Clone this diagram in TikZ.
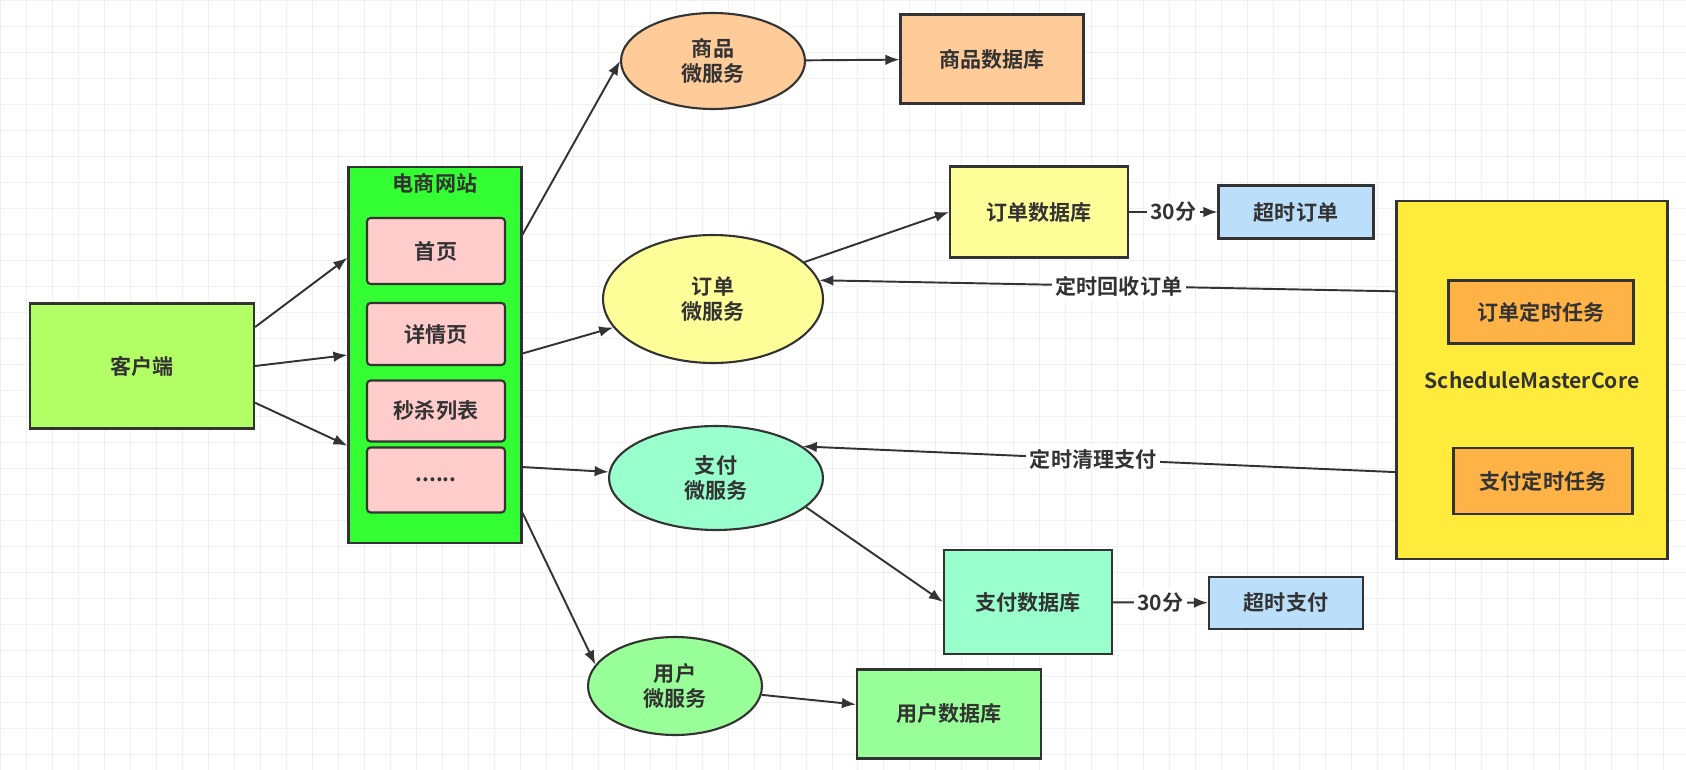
\documentclass[tikz,border=0pt]{standalone}
\usepackage{fontspec}
\setmainfont{Noto Sans CJK SC}[BoldFont={Noto Sans CJK SC Bold}]
\usetikzlibrary{shapes,arrows,arrows.meta,positioning,calc}
\definecolor{clientc}{HTML}{B3FF66}
\definecolor{sitec}{HTML}{33FF33}
\definecolor{pagec}{HTML}{FFCCCC}
\definecolor{goodsc}{HTML}{FFCC99}
\definecolor{orderc}{HTML}{FFFF99}
\definecolor{payc}{HTML}{99FFCC}
\definecolor{userc}{HTML}{99FF99}
\definecolor{timeoutc}{HTML}{BBDEFB}
\definecolor{smcc}{HTML}{FFEB3B}
\definecolor{taskc}{HTML}{FFB347}
\definecolor{linec}{HTML}{333333}

\begin{document}
\begin{tikzpicture}[x=0.02cm, y=-0.02cm,
  every node/.style={font=\fontsize{12}{14}\selectfont\bfseries, text=linec},
  box/.style={draw=linec, line width=1.2pt, rectangle, align=center},
  svc/.style={draw=linec, line width=1.2pt, ellipse, align=center, inner sep=0pt},
  link/.style={-{Latex[length=8pt,width=6pt]}, line width=1.1pt, draw=linec},
  lbl/.style={fill=white, inner sep=2pt}]
  % background grid
  \useasboundingbox (0,0) rectangle (1686,770);
  \fill[white] (0,0) rectangle (1686,770);
  \draw[gray!12, line width=0.4pt] (0,0) grid[step=0.52cm] (1686,770);

  % client and web site
  \node[box, fill=clientc, minimum width=4.48cm, minimum height=2.5cm] (client) at (142,366) {客户端};
  \node[box, fill=sitec, minimum width=3.46cm, minimum height=7.52cm] (site) at (435,355) {};
  \node at (435,183) {电商网站};
  \node[box, fill=pagec, rounded corners=2pt, minimum width=2.76cm, minimum height=1.32cm] (home) at (436,251) {首页};
  \node[box, fill=pagec, rounded corners=2pt, minimum width=2.76cm, minimum height=1.24cm] (detail) at (436,334) {详情页};
  \node[box, fill=pagec, rounded corners=2pt, minimum width=2.76cm, minimum height=1.22cm] (seckill) at (436,411) {秒杀列表};
  \node[box, fill=pagec, rounded corners=2pt, minimum width=2.76cm, minimum height=1.3cm] (more) at (436,480) {......};

  % micro services
  \node[svc, fill=goodsc, minimum width=3.68cm, minimum height=1.92cm] (goodsms) at (713,61) {商品\\微服务};
  \node[svc, fill=orderc, minimum width=4.4cm, minimum height=2.56cm] (orderms) at (713,299) {订单\\微服务};
  \node[svc, fill=payc, minimum width=4.28cm, minimum height=2.08cm] (payms) at (716,478) {支付\\微服务};
  \node[svc, fill=userc, minimum width=3.48cm, minimum height=1.96cm] (userms) at (675,686) {用户\\微服务};

  % databases
  \node[box, fill=goodsc, minimum width=3.66cm, minimum height=1.78cm] (goodsdb) at (992,59) {商品数据库};
  \node[box, fill=orderc, minimum width=3.56cm, minimum height=1.82cm] (orderdb) at (1039,212) {订单数据库};
  \node[box, fill=payc, minimum width=3.36cm, minimum height=2.08cm] (paydb) at (1028,602) {支付数据库};
  \node[box, fill=userc, minimum width=3.68cm, minimum height=1.78cm] (userdb) at (949,714) {用户数据库};
  \node[box, fill=timeoutc, minimum width=3.1cm, minimum height=1.06cm] (ordertimeout) at (1296,212) {超时订单};
  \node[box, fill=timeoutc, minimum width=3.08cm, minimum height=1.04cm] (paytimeout) at (1286,603) {超时支付};

  % scheduler
  \node[box, fill=smcc, minimum width=5.42cm, minimum height=7.16cm] (smc) at (1532,380) {ScheduleMasterCore};
  \node[box, fill=taskc, minimum width=3.7cm, minimum height=1.26cm] (ordertask) at (1541,312) {订单定时任务};
  \node[box, fill=taskc, minimum width=3.58cm, minimum height=1.32cm] (paytask) at (1543,481) {支付定时任务};

  % connectors
  \draw[link] (client.19) -- (site.132);
  \draw[link] (client.east) -- (site.west);
  \draw[link] (client.-18) -- (site.226);
  \draw[link] (site.54) -- (goodsms.west);
  \draw[link] (site.1) -- (orderms);
  \draw[link] (site.-52) -- (payms);
  \draw[link] (site.-61) -- (userms.165);
  \draw[link] (goodsms) -- (goodsdb);
  \draw[link] (orderms.22) -- (orderdb.west);
  \draw[link] (payms.-18) -- (paydb.west);
  \draw[link] (userms) -- (userdb);
  \draw[link] (orderdb) -- node[lbl] {30分} (ordertimeout);
  \draw[link] (paydb) -- node[lbl] {30分} (paytimeout);
  \draw[link] (smc.147) -- node[lbl, pos=0.48] {定时回收订单} (orderms.10);
  \draw[link] (smc.214) -- node[lbl, pos=0.51] {定时清理支付} (payms.20);
\end{tikzpicture}
\end{document}
